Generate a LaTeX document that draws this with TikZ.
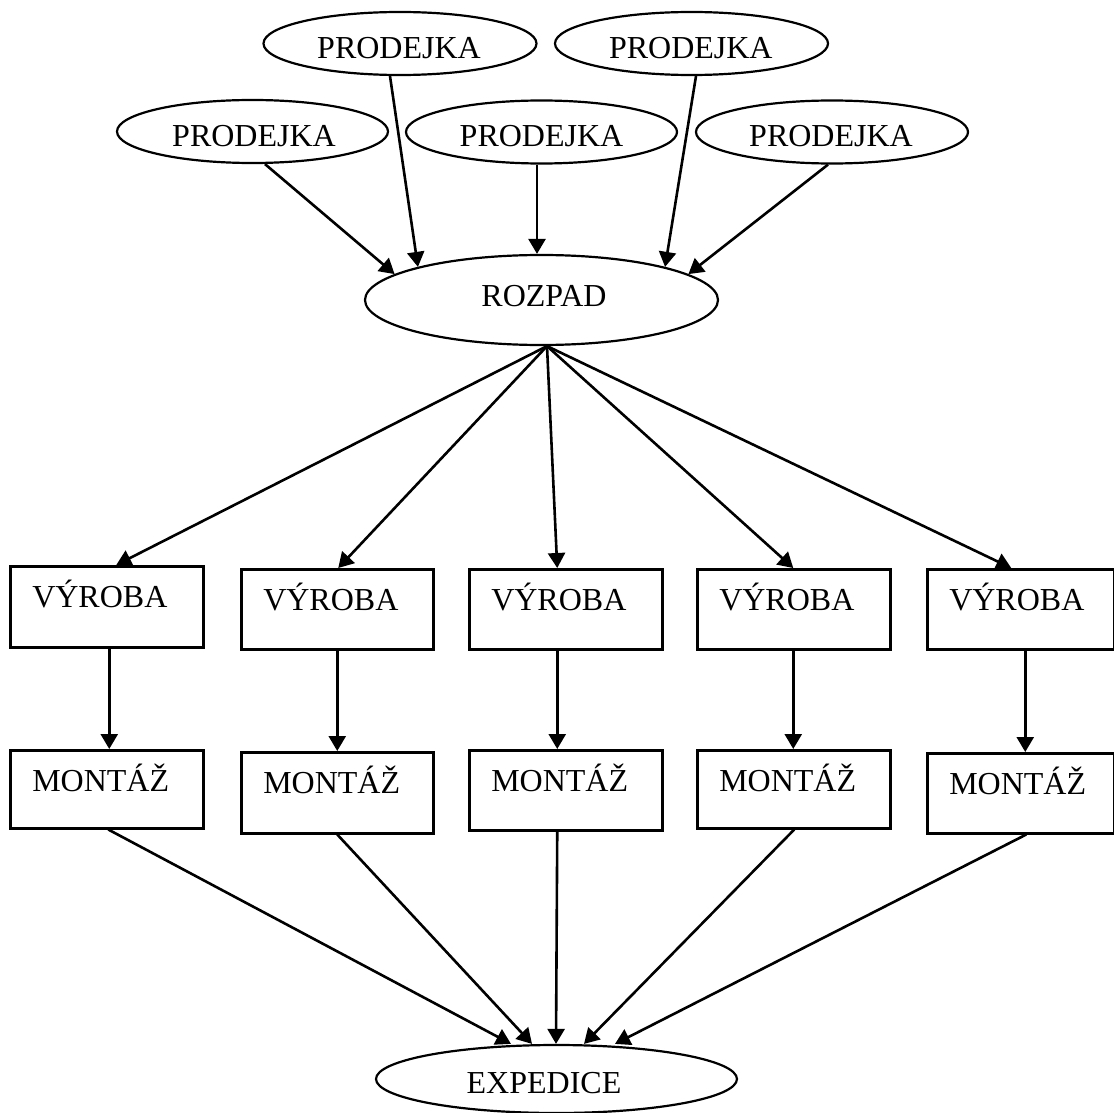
\documentclass[tikz,border=0pt]{standalone}
\usepackage{fontspec}
\setmainfont{Liberation Serif}
\usetikzlibrary{arrows.meta,shapes.geometric}
% label inside an oval: #1 horizontal offset, #2 baseline offset, #3 text
\newcommand{\ovaltext}[3]{\raisebox{#2}[0pt][0pt]{\makebox[0pt]{\hspace*{#1}\hspace*{#1}#3}}}
\begin{document}
\begin{tikzpicture}[x=1pt,y=-1pt,
  every node/.style={font=\fontsize{32pt}{38pt}\selectfont},
  oval/.style={draw, ellipse, line width=2.2pt, inner sep=0pt},
  box/.style={draw, rectangle, line width=2.5pt, anchor=north west,
    inner xsep=22pt, inner ysep=0pt, text width=149pt, align=left,
    text height=41pt, text depth=39pt},
  arr/.style={line width=2.6pt, -{Triangle[length=15pt,width=17pt]}}]
\useasboundingbox (0,0) rectangle (1114,1113);

% order sources
\node[oval, minimum width=271pt, minimum height=63pt] (pA) at (252.5,131.5) {\ovaltext{1.5pt}{-14.7pt}{PRODEJKA}};
\node[oval, minimum width=273pt, minimum height=63pt] (pB) at (400,43.5) {\ovaltext{-1pt}{-14.7pt}{PRODEJKA}};
\node[oval, minimum width=271pt, minimum height=63pt] (pC) at (541.5,132) {\ovaltext{0pt}{-14.7pt}{PRODEJKA}};
\node[oval, minimum width=273pt, minimum height=63pt] (pD) at (691.5,43.5) {\ovaltext{-0.7pt}{-14.7pt}{PRODEJKA}};
\node[oval, minimum width=272pt, minimum height=63pt] (pE) at (832,132) {\ovaltext{-1pt}{-14.7pt}{PRODEJKA}};

% breakdown
\node[oval, minimum width=353pt, minimum height=90pt] (r) at (541.5,300) {\ovaltext{2.5pt}{-6pt}{ROZPAD}};

% production and assembly lines
\node[box, text depth=40pt] (v1) at (9,565) {VÝROBA};
\node[box, text width=148pt] (v2) at (240,568) {VÝROBA};
\node[box] (v3) at (468,568) {VÝROBA};
\node[box] (v4) at (696,568) {VÝROBA};
\node[box, text width=143pt] (v5) at (926,568) {VÝROBA};

\node[box, text depth=37pt] (m1) at (9,749) {MONTÁŽ};
\node[box, text width=148pt, text depth=40pt] (m2) at (240,751) {MONTÁŽ};
\node[box] (m3) at (468,749) {MONTÁŽ};
\node[box, text depth=37pt] (m4) at (696,749) {MONTÁŽ};
\node[box, text width=143pt] (m5) at (926,752) {MONTÁŽ};

% dispatch
\node[oval, minimum width=361pt, minimum height=68pt] (e) at (556.5,1079) {\ovaltext{-12.5pt}{-14pt}{EXPEDICE}};

% orders into breakdown
\draw[arr] ([xshift=12.5pt]pA.south) -- (r.170);
\draw[arr] ([xshift=-10pt]pB.south) -- (r.165);
\draw[arr] ([xshift=-4.5pt]pC.south) -- ([xshift=-4.5pt]r.north);
\draw[arr] ([xshift=4.5pt]pD.south) -- (r.15);
\draw[arr] ([xshift=-4pt]pE.south) -- (r.10);

% breakdown into production
\draw[arr] ([xshift=5.5pt]r.south) -- ([xshift=9.5pt]v1.north);
\draw[arr] ([xshift=5.5pt]r.south) -- ([xshift=1pt]v2.north);
\draw[arr] ([xshift=5.5pt]r.south) -- ([xshift=-8.5pt]v3.north);
\draw[arr] ([xshift=5.5pt]r.south) -- ([xshift=-0.5pt]v4.north);
\draw[arr] ([xshift=5.5pt]r.south) -- ([xshift=-9.5pt]v5.north);

% production into assembly
\draw[arr] ([xshift=2.5pt]v1.south) -- ([xshift=2.5pt]m1.north);
\draw[arr] (v2.south) -- (m2.north);
\draw[arr] ([xshift=-8.5pt]v3.south) -- ([xshift=-8.5pt]m3.north);
\draw[arr] ([xshift=-0.5pt]v4.south) -- ([xshift=-0.5pt]m4.north);
\draw[arr] ([xshift=4.5pt]v5.south) -- ([xshift=4.5pt]m5.north);

% assembly into dispatch
\draw[arr] ([xshift=1.5pt]m1.south) -- ([xshift=-45.5pt]e.north);
\draw[arr] (m2.south) -- ([xshift=-24.5pt]e.north);
\draw[arr] ([xshift=-8.5pt]m3.south) -- ([xshift=-0.5pt]e.north);
\draw[arr] ([xshift=0.5pt]m4.south) -- ([xshift=27.5pt]e.north);
\draw[arr] ([xshift=5.5pt]m5.south) -- ([xshift=58.5pt]e.north);
\end{tikzpicture}
\end{document}
